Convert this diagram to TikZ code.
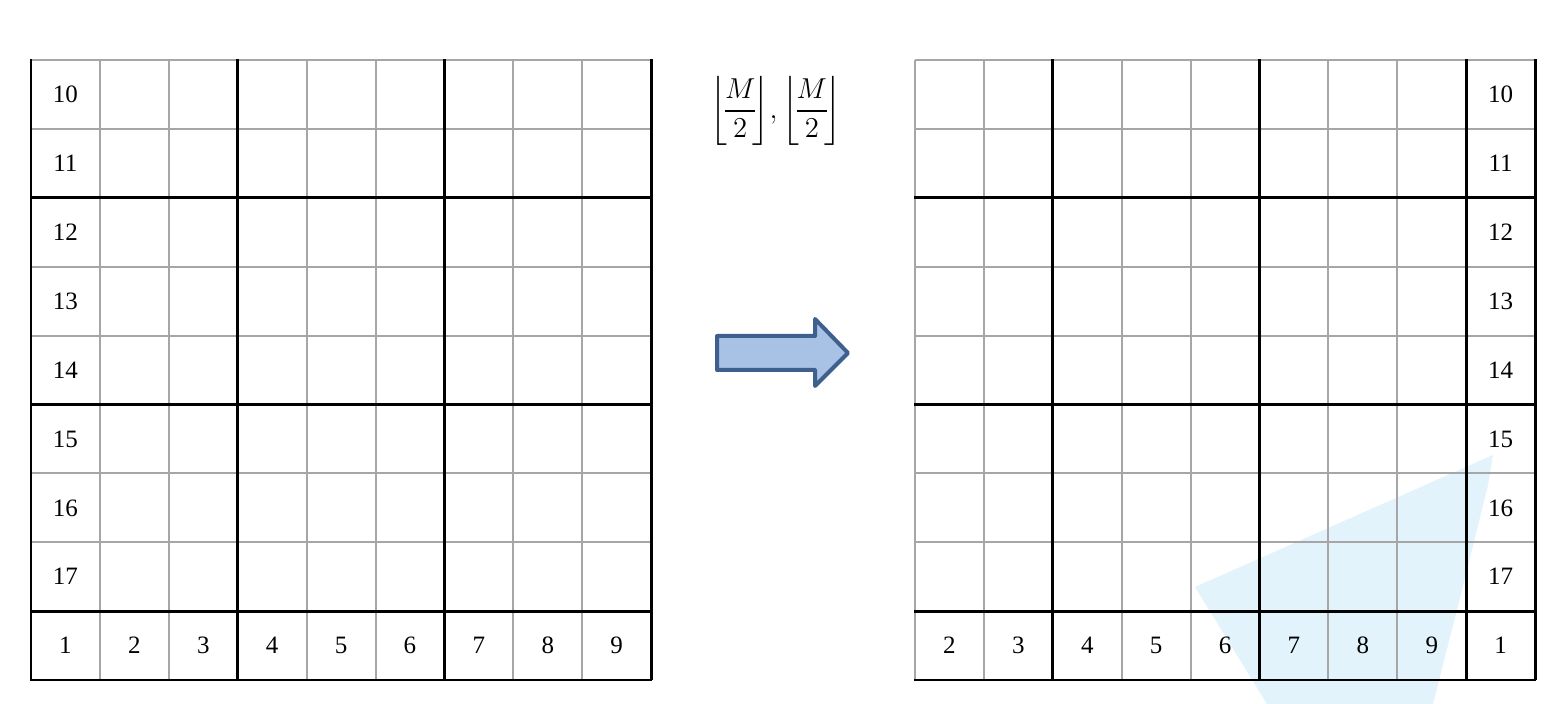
\documentclass[tikz,border=0pt]{standalone}
\usepackage{amsmath}
\usepackage{fontspec}
\setmainfont{Liberation Serif}
\begin{document}
\begin{tikzpicture}[x=0.5pt,y=-0.5pt,
  thin grid/.style={draw=black!35, line width=1pt},
  thick grid/.style={draw=black, line width=1.4pt, line cap=rect},
  cell/.style={font=\fontsize{12.5}{14}\selectfont, inner sep=0pt}]
\useasboundingbox (0,0) rectangle (1564,704);
\definecolor{arrowfill}{RGB}{167,194,228}
\definecolor{arrowline}{RGB}{62,96,142}
\definecolor{lightbluefill}{RGB}{226,243,252}
% light blue shape (behind the right grid)
\fill[lightbluefill] (1493,455) -- (1488,485) -- (1462,590) -- (1433,704) -- (1267,704) -- (1195,587) -- cycle;
% ---- left grid ----
\foreach \i in {0,...,9} {
  \draw[thin grid] ({31+\i*68.9},60) -- ({31+\i*68.9},679);
  \draw[thin grid] (31,{60+\i*68.9}) -- (651,{60+\i*68.9});
}
\foreach \i in {0,3,6,9} \draw[thick grid] ({31+\i*68.9},60) -- ({31+\i*68.9},679);
\foreach \i in {2,5,8,9} \draw[thick grid] (31,{60+\i*68.9}) -- (651,{60+\i*68.9});
\foreach \i in {0,...,8} {
  \pgfmathtruncatemacro{\n}{\i+1}
  \node[cell] (L-b\n) at ({31+(\i+0.5)*68.9},{60+8.5*68.9}) {\n};
}
\foreach \i in {0,...,7} {
  \pgfmathtruncatemacro{\n}{\i+10}
  \node[cell] (L-s\n) at ({31+0.5*68.9},{60+(\i+0.5)*68.9}) {\n};
}
% ---- right grid ----
\foreach \i in {0,...,9} {
  \draw[thin grid] ({915+\i*68.9},60) -- ({915+\i*68.9},679);
  \draw[thin grid] (915,{60+\i*68.9}) -- (1535,{60+\i*68.9});
}
\foreach \i in {2,5,8,9} \draw[thick grid] ({915+\i*68.9},60) -- ({915+\i*68.9},679);
\foreach \i in {2,5,8,9} \draw[thick grid] (915,{60+\i*68.9}) -- (1535,{60+\i*68.9});
\foreach \i/\n in {0/2,1/3,2/4,3/5,4/6,5/7,6/8,7/9,8/1} {
  \node[cell] (R-b\n) at ({915+(\i+0.5)*68.9},{60+8.5*68.9}) {\n};
}
\foreach \i in {0,...,7} {
  \pgfmathtruncatemacro{\n}{\i+10}
  \node[cell] (R-s\n) at ({915+8.5*68.9},{60+(\i+0.5)*68.9}) {\n};
}
% ---- arrow ----
\draw[fill=arrowfill, draw=arrowline, line width=2pt, line join=round]
  (717,336) -- (815,336) -- (815,319) -- (848,353) -- (815,386) -- (815,370) -- (717,370) -- cycle;
% ---- formula ----
\node[font=\fontsize{13.5}{15}\selectfont, inner sep=0pt] (formula) at (776,111)
  {$\left\lfloor\!\dfrac{M}{2}\!\right\rfloor\!,\left\lfloor\!\dfrac{M}{2}\!\right\rfloor$};
\end{tikzpicture}
\end{document}
